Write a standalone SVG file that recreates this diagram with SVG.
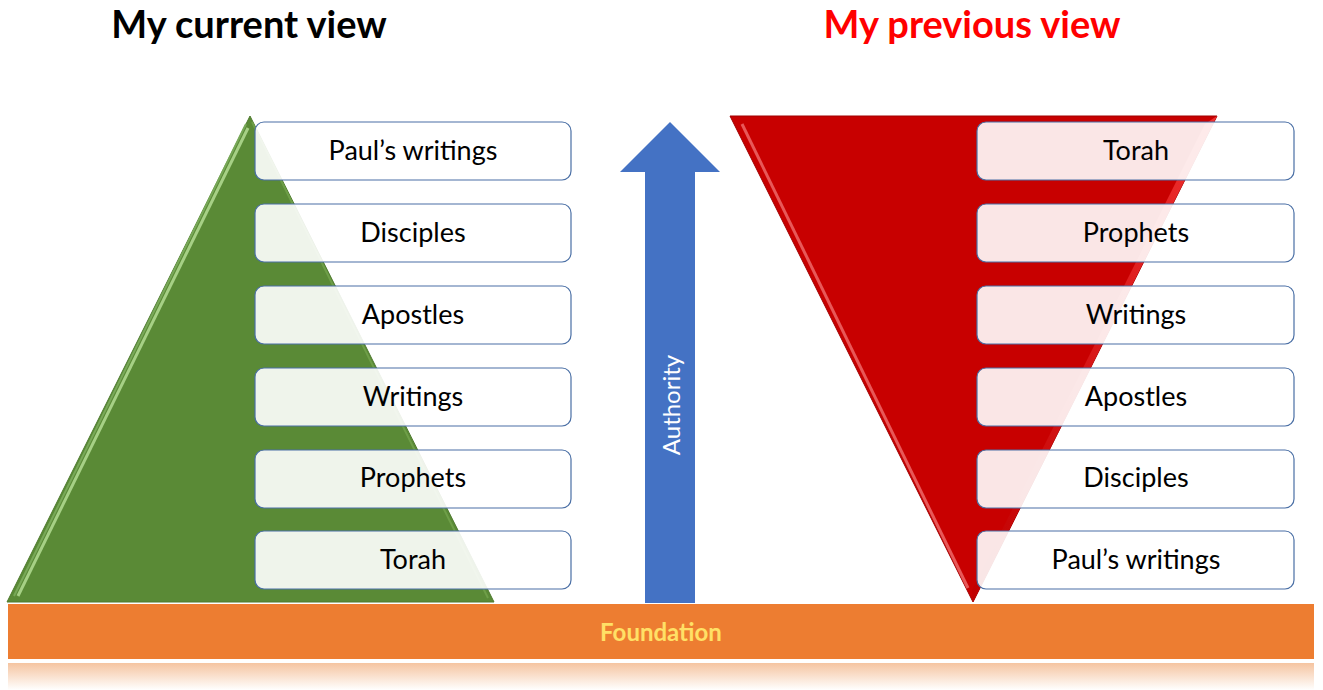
<svg xmlns="http://www.w3.org/2000/svg" width="1323" height="690" viewBox="0 0 1323 690">
<defs>
<style>
.box{fill:#fff;fill-opacity:0.9;stroke:#4A6FA5;stroke-width:1.2}
.bt{font-family:Lato,"Open Sans",sans-serif;font-size:27px;fill:#000;text-anchor:middle}
.title{font-family:Lato,"Open Sans",sans-serif;font-size:38px;font-weight:bold;text-anchor:middle}
</style>
<linearGradient id="refl" x1="0" y1="0" x2="0" y2="1">
<stop offset="0" stop-color="#F5C4A0"/>
<stop offset="1" stop-color="#fff"/>
</linearGradient>
<linearGradient id="redEdge" x1="0" y1="0" x2="1" y2="0">
<stop offset="0" stop-color="#C00000"/>
<stop offset="1" stop-color="#F03030"/>
</linearGradient>
</defs>
<rect width="1323" height="690" fill="#fff"/>

<g id="titles">
<text class="title" x="249" y="38" fill="#000">My current view</text>
<text class="title" x="972" y="38" fill="#FF0000">My previous view</text>
</g>

<g id="green-pyramid">
<polygon points="250,116 7,602 494,602" fill="#5A8A36" stroke="#4E7A2E" stroke-width="1"/>
<polyline points="248,128 18,596" fill="none" stroke="#A6D085" stroke-width="3"/>
<polyline points="246,124 14,596" fill="none" stroke="#78A858" stroke-width="2"/>
<polyline points="252,122 488,598" fill="none" stroke="#6E9E48" stroke-width="2"/>
</g>

<g id="red-pyramid">
<polygon points="730,116 1217,116 973,602" fill="#C80000" stroke="#A00000" stroke-width="1"/>
<polyline points="742,124 968,588" fill="none" stroke="#E85858" stroke-width="3"/>
<polygon points="1205,124 1217,116 973,602 972,590" fill="url(#redEdge)"/>
</g>

<g id="arrow">
<polygon points="670,122 720,172 695,172 695,603 645,603 645,172 620,172" fill="#4472C4"/>
<text x="680" y="405" transform="rotate(-90 680 405)" font-family="Lato,'Open Sans',sans-serif" font-size="24" fill="#fff" text-anchor="middle">Authority</text>
</g>

<g id="left-boxes">
<g id="l1"><rect class="box" x="255" y="122" width="316" height="58" rx="9"/><text class="bt" x="413" y="160">Paul’s writings</text></g>
<g id="l2"><rect class="box" x="255" y="204" width="316" height="58" rx="9"/><text class="bt" x="413" y="242">Disciples</text></g>
<g id="l3"><rect class="box" x="255" y="286" width="316" height="58" rx="9"/><text class="bt" x="413" y="324">Apostles</text></g>
<g id="l4"><rect class="box" x="255" y="368" width="316" height="58" rx="9"/><text class="bt" x="413" y="406">Writings</text></g>
<g id="l5"><rect class="box" x="255" y="450" width="316" height="58" rx="9"/><text class="bt" x="413" y="487">Prophets</text></g>
<g id="l6"><rect class="box" x="255" y="531" width="316" height="58" rx="9"/><text class="bt" x="413" y="569">Torah</text></g>
</g>

<g id="right-boxes">
<g id="r1"><rect class="box" x="977" y="122" width="317" height="58" rx="9"/><text class="bt" x="1136" y="160">Torah</text></g>
<g id="r2"><rect class="box" x="977" y="204" width="317" height="58" rx="9"/><text class="bt" x="1136" y="242">Prophets</text></g>
<g id="r3"><rect class="box" x="977" y="286" width="317" height="58" rx="9"/><text class="bt" x="1136" y="324">Writings</text></g>
<g id="r4"><rect class="box" x="977" y="368" width="317" height="58" rx="9"/><text class="bt" x="1136" y="406">Apostles</text></g>
<g id="r5"><rect class="box" x="977" y="450" width="317" height="58" rx="9"/><text class="bt" x="1136" y="487">Disciples</text></g>
<g id="r6"><rect class="box" x="977" y="531" width="317" height="58" rx="9"/><text class="bt" x="1136" y="569">Paul’s writings</text></g>
</g>

<g id="foundation">
<rect x="8" y="604" width="1306" height="55" fill="#ED7D31"/>
<text x="661" y="641" font-family="Lato,'Open Sans',sans-serif" font-size="24" font-weight="bold" fill="#FFE066" text-anchor="middle">Foundation</text>
<rect x="8" y="663" width="1306" height="27" fill="url(#refl)"/>
</g>
</svg>
